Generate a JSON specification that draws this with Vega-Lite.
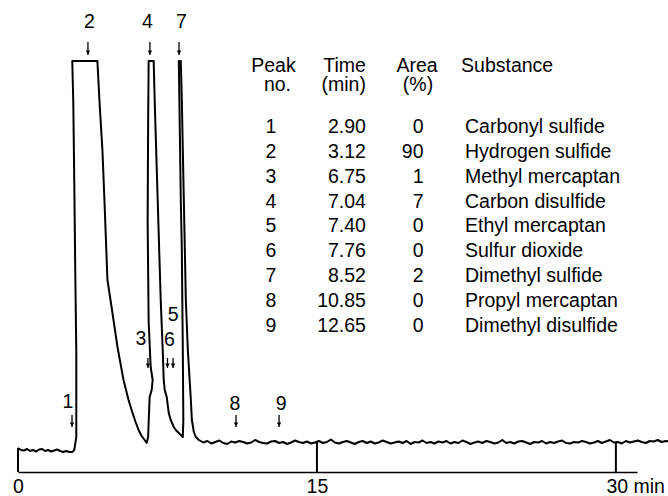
{
  "$schema": "https://vega.github.io/schema/vega-lite/v6.json",
  "width": 619,
  "height": 472,
  "autosize": {"type": "none"},
  "padding": {"left": 18, "right": 31, "top": 0, "bottom": 24},
  "background": "white",
  "config": {
    "view": {"stroke": null},
    "text": {"font": "Liberation Sans", "fontSize": 19.5, "color": "black"}
  },
  "datasets": {
    "trace": [
      {"i":0,"t":0,"v":24},{"i":1,"t":0.151,"v":22},{"i":2,"t":0.303,"v":21.5},{"i":3,"t":0.454,"v":23},
      {"i":4,"t":0.605,"v":21},{"i":5,"t":0.756,"v":22},{"i":6,"t":0.908,"v":20.5},{"i":7,"t":1.059,"v":22.5},
      {"i":8,"t":1.21,"v":23},{"i":9,"t":1.362,"v":21},{"i":10,"t":1.513,"v":22},{"i":11,"t":1.664,"v":20.5},
      {"i":12,"t":1.815,"v":21.5},{"i":13,"t":1.967,"v":22.5},{"i":14,"t":2.118,"v":21},{"i":15,"t":2.269,"v":20},
      {"i":16,"t":2.421,"v":21},{"i":17,"t":2.572,"v":20},{"i":18,"t":2.723,"v":20},{"i":19,"t":2.824,"v":22},
      {"i":20,"t":2.925,"v":35},{"i":21,"t":2.925,"v":120},{"i":22,"t":2.874,"v":200},{"i":23,"t":2.824,"v":290},
      {"i":24,"t":2.774,"v":370},{"i":25,"t":2.723,"v":411},{"i":26,"t":3.984,"v":411},{"i":27,"t":4.085,"v":372},
      {"i":28,"t":4.236,"v":322},{"i":29,"t":4.337,"v":272},{"i":30,"t":4.488,"v":192},{"i":31,"t":4.74,"v":159},
      {"i":32,"t":4.992,"v":125},{"i":33,"t":5.295,"v":92},{"i":34,"t":5.547,"v":72},{"i":35,"t":5.749,"v":59},
      {"i":36,"t":5.9,"v":50},{"i":37,"t":6.051,"v":42},{"i":38,"t":6.203,"v":36},{"i":39,"t":6.354,"v":32},
      {"i":40,"t":6.455,"v":29},{"i":41,"t":6.53,"v":35},{"i":42,"t":6.556,"v":50},{"i":43,"t":6.606,"v":75},
      {"i":44,"t":6.707,"v":82},{"i":45,"t":6.757,"v":92},{"i":46,"t":6.657,"v":105},{"i":47,"t":6.556,"v":150},
      {"i":48,"t":6.505,"v":250},{"i":49,"t":6.53,"v":350},{"i":50,"t":6.556,"v":411},{"i":51,"t":6.808,"v":411},
      {"i":52,"t":6.858,"v":372},{"i":53,"t":7.009,"v":272},{"i":54,"t":7.161,"v":172},{"i":55,"t":7.262,"v":122},
      {"i":56,"t":7.312,"v":92},{"i":57,"t":7.363,"v":82},{"i":58,"t":7.463,"v":75},{"i":59,"t":7.564,"v":59},
      {"i":60,"t":7.665,"v":52},{"i":61,"t":7.816,"v":45},{"i":62,"t":7.917,"v":42},{"i":63,"t":8.069,"v":39},
      {"i":64,"t":8.169,"v":37},{"i":65,"t":8.27,"v":35},{"i":66,"t":8.296,"v":52},{"i":67,"t":8.27,"v":122},
      {"i":68,"t":8.22,"v":222},{"i":69,"t":8.169,"v":272},{"i":70,"t":8.119,"v":342},{"i":71,"t":8.069,"v":411},
      {"i":72,"t":8.169,"v":411},{"i":73,"t":8.22,"v":372},{"i":74,"t":8.321,"v":272},{"i":75,"t":8.422,"v":172},
      {"i":76,"t":8.522,"v":122},{"i":77,"t":8.573,"v":105},{"i":78,"t":8.674,"v":72},{"i":79,"t":8.724,"v":52},
      {"i":80,"t":8.825,"v":40},{"i":81,"t":8.926,"v":35},{"i":82,"t":9.077,"v":32},
      {"i":83,"t":9.3,"v":29.5},{"i":84,"t":9.5,"v":31},{"i":85,"t":9.7,"v":28.5},{"i":86,"t":9.9,"v":30},
      {"i":87,"t":10.1,"v":31.5},{"i":88,"t":10.3,"v":29},{"i":89,"t":10.5,"v":28},{"i":90,"t":10.7,"v":30.5},
      {"i":91,"t":10.9,"v":29.5},{"i":92,"t":11.1,"v":31},{"i":93,"t":11.3,"v":30},{"i":94,"t":11.5,"v":28.5},
      {"i":95,"t":11.7,"v":29.5},{"i":96,"t":11.9,"v":32},{"i":97,"t":12.1,"v":30},{"i":98,"t":12.3,"v":29},
      {"i":99,"t":12.5,"v":28.5},{"i":100,"t":12.7,"v":30.5},{"i":101,"t":12.9,"v":31},{"i":102,"t":13.1,"v":29},
      {"i":103,"t":13.3,"v":30},{"i":104,"t":13.5,"v":28},{"i":105,"t":13.7,"v":29.5},{"i":106,"t":13.9,"v":31.5},
      {"i":107,"t":14.1,"v":30},{"i":108,"t":14.3,"v":29},{"i":109,"t":14.5,"v":30.5},{"i":110,"t":14.7,"v":28.5},
      {"i":111,"t":14.9,"v":29.5},{"i":112,"t":15.1,"v":31},{"i":113,"t":15.3,"v":29},{"i":114,"t":15.5,"v":30},
      {"i":115,"t":15.7,"v":32.5},{"i":116,"t":15.9,"v":29.5},{"i":117,"t":16.1,"v":28.5},{"i":118,"t":16.3,"v":30},
      {"i":119,"t":16.5,"v":31},{"i":120,"t":16.7,"v":29.5},{"i":121,"t":16.9,"v":28},{"i":122,"t":17.1,"v":30},
      {"i":123,"t":17.3,"v":31},{"i":124,"t":17.5,"v":29},{"i":125,"t":17.7,"v":30.5},{"i":126,"t":17.9,"v":28.5},
      {"i":127,"t":18.1,"v":29.5},{"i":128,"t":18.3,"v":31.5},{"i":129,"t":18.5,"v":30},{"i":130,"t":18.7,"v":28.5},
      {"i":131,"t":18.9,"v":29.5},{"i":132,"t":19.1,"v":30.5},{"i":133,"t":19.3,"v":29},{"i":134,"t":19.5,"v":31},
      {"i":135,"t":19.7,"v":28},{"i":136,"t":19.9,"v":30},{"i":137,"t":20.1,"v":29.5},{"i":138,"t":20.3,"v":31.5},
      {"i":139,"t":20.5,"v":29},{"i":140,"t":20.7,"v":30},{"i":141,"t":20.9,"v":28.5},{"i":142,"t":21.1,"v":30.5},
      {"i":143,"t":21.3,"v":29.5},{"i":144,"t":21.5,"v":31},{"i":145,"t":21.7,"v":28.5},{"i":146,"t":21.9,"v":30},
      {"i":147,"t":22.1,"v":29},{"i":148,"t":22.3,"v":31.5},{"i":149,"t":22.5,"v":30},{"i":150,"t":22.7,"v":28},
      {"i":151,"t":22.9,"v":29.5},{"i":152,"t":23.1,"v":30.5},{"i":153,"t":23.3,"v":29},{"i":154,"t":23.5,"v":31},
      {"i":155,"t":23.7,"v":30},{"i":156,"t":23.9,"v":28.5},{"i":157,"t":24.1,"v":29.5},{"i":158,"t":24.3,"v":32},
      {"i":159,"t":24.5,"v":29},{"i":160,"t":24.7,"v":30},{"i":161,"t":24.9,"v":28.5},{"i":162,"t":25.1,"v":30.5},
      {"i":163,"t":25.3,"v":31},{"i":164,"t":25.5,"v":29.5},{"i":165,"t":25.7,"v":28},{"i":166,"t":25.9,"v":30},
      {"i":167,"t":26.1,"v":29.5},{"i":168,"t":26.3,"v":31},{"i":169,"t":26.5,"v":28.5},{"i":170,"t":26.7,"v":30},
      {"i":171,"t":26.9,"v":29},{"i":172,"t":27.1,"v":30.5},{"i":173,"t":27.3,"v":31.5},{"i":174,"t":27.5,"v":29},
      {"i":175,"t":27.7,"v":28.5},{"i":176,"t":27.9,"v":30},{"i":177,"t":28.1,"v":29.5},{"i":178,"t":28.3,"v":31},
      {"i":179,"t":28.5,"v":30},{"i":180,"t":28.7,"v":28.5},{"i":181,"t":28.9,"v":29.5},{"i":182,"t":29.1,"v":31},
      {"i":183,"t":29.3,"v":29},{"i":184,"t":29.5,"v":30.5},{"i":185,"t":29.7,"v":32},{"i":186,"t":29.9,"v":29.5},
      {"i":187,"t":30.1,"v":30},{"i":188,"t":30.3,"v":28.5},{"i":189,"t":30.5,"v":31},{"i":190,"t":30.7,"v":29.5},
      {"i":191,"t":30.9,"v":30.5},{"i":192,"t":31.1,"v":31.5},{"i":193,"t":31.3,"v":30},{"i":194,"t":31.5,"v":29},
      {"i":195,"t":31.7,"v":31},{"i":196,"t":31.9,"v":30.5},{"i":197,"t":32.1,"v":32},{"i":198,"t":32.3,"v":30},
      {"i":199,"t":32.5,"v":31},{"i":200,"t":32.7,"v":30.5},{"i":201,"t":32.8,"v":31}
    ],
    "ticks": [{"t": 0, "v": 24}, {"t": 15, "v": 31}, {"t": 30, "v": 29}],
    "labels": [
      {"label": "2", "t": 3.59, "v": 444}, {"label": "4", "t": 6.5, "v": 444}, {"label": "7", "t": 8.2, "v": 444},
      {"label": "1", "t": 2.51, "v": 64}, {"label": "3", "t": 6.17, "v": 127}, {"label": "6", "t": 7.6, "v": 126},
      {"label": "5", "t": 7.78, "v": 151}, {"label": "8", "t": 10.89, "v": 62}, {"label": "9", "t": 13.2, "v": 62}
    ],
    "arrows": [
      {"t": 3.51, "top": 430, "bot": 417}, {"t": 6.62, "top": 430, "bot": 417}, {"t": 8.08, "top": 430, "bot": 417},
      {"t": 2.71, "top": 57, "bot": 45}, {"t": 6.52, "top": 114, "bot": 104}, {"t": 7.5, "top": 114, "bot": 104},
      {"t": 7.78, "top": 114, "bot": 104}, {"t": 10.94, "top": 57, "bot": 45}, {"t": 13.1, "top": 57, "bot": 45}
    ],
    "cells": [
      {"text": "Peak", "col": "no", "t": 12.82, "v": 400},
      {"text": "no.", "col": "no", "t": 13.02, "v": 381},
      {"text": "Time", "col": "time", "t": 17.46, "v": 400},
      {"text": "(min)", "col": "time", "t": 17.46, "v": 381},
      {"text": "Area", "col": "areah", "t": 20.02, "v": 400},
      {"text": "(%)", "col": "areah", "t": 20.07, "v": 381},
      {"text": "Substance", "col": "substance", "t": 22.23, "v": 400},
      {"text": "1", "col": "no", "t": 12.69, "v": 339},
      {"text": "2", "col": "no", "t": 12.69, "v": 314},
      {"text": "3", "col": "no", "t": 12.69, "v": 289},
      {"text": "4", "col": "no", "t": 12.69, "v": 264},
      {"text": "5", "col": "no", "t": 12.69, "v": 240},
      {"text": "6", "col": "no", "t": 12.69, "v": 215},
      {"text": "7", "col": "no", "t": 12.69, "v": 190},
      {"text": "8", "col": "no", "t": 12.69, "v": 165},
      {"text": "9", "col": "no", "t": 12.69, "v": 140},
      {"text": "2.90", "col": "time", "t": 17.46, "v": 339},
      {"text": "3.12", "col": "time", "t": 17.46, "v": 314},
      {"text": "6.75", "col": "time", "t": 17.46, "v": 289},
      {"text": "7.04", "col": "time", "t": 17.46, "v": 264},
      {"text": "7.40", "col": "time", "t": 17.46, "v": 240},
      {"text": "7.76", "col": "time", "t": 17.46, "v": 215},
      {"text": "8.52", "col": "time", "t": 17.46, "v": 190},
      {"text": "10.85", "col": "time", "t": 17.46, "v": 165},
      {"text": "12.65", "col": "time", "t": 17.46, "v": 140},
      {"text": "0", "col": "area", "t": 20.35, "v": 339},
      {"text": "90", "col": "area", "t": 20.35, "v": 314},
      {"text": "1", "col": "area", "t": 20.35, "v": 289},
      {"text": "7", "col": "area", "t": 20.35, "v": 264},
      {"text": "0", "col": "area", "t": 20.35, "v": 240},
      {"text": "0", "col": "area", "t": 20.35, "v": 215},
      {"text": "2", "col": "area", "t": 20.35, "v": 190},
      {"text": "0", "col": "area", "t": 20.35, "v": 165},
      {"text": "0", "col": "area", "t": 20.35, "v": 140},
      {"text": "Carbonyl sulfide", "col": "substance", "t": 22.43, "v": 339},
      {"text": "Hydrogen sulfide", "col": "substance", "t": 22.43, "v": 314},
      {"text": "Methyl mercaptan", "col": "substance", "t": 22.43, "v": 289},
      {"text": "Carbon disulfide", "col": "substance", "t": 22.43, "v": 264},
      {"text": "Ethyl mercaptan", "col": "substance", "t": 22.43, "v": 240},
      {"text": "Sulfur dioxide", "col": "substance", "t": 22.43, "v": 215},
      {"text": "Dimethyl sulfide", "col": "substance", "t": 22.43, "v": 190},
      {"text": "Propyl mercaptan", "col": "substance", "t": 22.43, "v": 165},
      {"text": "Dimethyl disulfide", "col": "substance", "t": 22.43, "v": 140}
    ]
  },
  "encoding": {
    "x": {
      "field": "t", "type": "quantitative",
      "scale": {"domain": [0, 31.06], "nice": false, "zero": false, "padding": 0},
      "axis": {
        "values": [0, 15, 30], "title": null, "grid": false, "ticks": false,
        "domain": true, "domainColor": "black", "domainWidth": 1.6,
        "labelFont": "Liberation Sans", "labelFontSize": 19.5, "labelColor": "black",
        "labelPadding": 5, "labelFlush": false, "labelOverlap": false,
        "labelExpr": "datum.value == 30 ? '30 min' : datum.label",
        "labelAlign": {"condition": {"test": "datum.value == 30", "value": "left"}, "value": "center"},
        "labelOffset": {"condition": {"test": "datum.value == 30", "value": -10}, "value": 0}
      }
    },
    "y": {"field": "v", "type": "quantitative", "scale": {"domain": [0, 472], "nice": false, "zero": false, "padding": 0}, "axis": null}
  },
  "layer": [
    {
      "data": {"name": "ticks"},
      "mark": {"type": "bar", "color": "black", "width": 2}
    },
    {
      "data": {"name": "trace"},
      "mark": {"type": "line", "color": "black", "strokeWidth": 2, "strokeJoin": "round"},
      "encoding": {"order": {"field": "i", "type": "quantitative"}}
    },
    {
      "data": {"name": "arrows"},
      "mark": {"type": "rule", "color": "black", "strokeWidth": 1.3},
      "encoding": {"y": {"field": "top", "type": "quantitative"}, "y2": {"field": "bot"}}
    },
    {
      "data": {"name": "arrows"},
      "mark": {"type": "point", "shape": "triangle-down", "filled": true, "color": "black", "size": 20, "opacity": 1, "yOffset": -2.5},
      "encoding": {"y": {"field": "bot", "type": "quantitative"}}
    },
    {
      "data": {"name": "labels"},
      "mark": {"type": "text", "align": "center", "baseline": "alphabetic"},
      "encoding": {"text": {"field": "label"}}
    },
    {
      "data": {"name": "cells"},
      "transform": [{"filter": "datum.col == 'no' || datum.col == 'areah'"}],
      "mark": {"type": "text", "align": "center", "baseline": "alphabetic"},
      "encoding": {"text": {"field": "text"}}
    },
    {
      "data": {"name": "cells"},
      "transform": [{"filter": "datum.col == 'time' || datum.col == 'area'"}],
      "mark": {"type": "text", "align": "right", "baseline": "alphabetic"},
      "encoding": {"text": {"field": "text"}}
    },
    {
      "data": {"name": "cells"},
      "transform": [{"filter": "datum.col == 'substance'"}],
      "mark": {"type": "text", "align": "left", "baseline": "alphabetic"},
      "encoding": {"text": {"field": "text"}}
    }
  ]
}
